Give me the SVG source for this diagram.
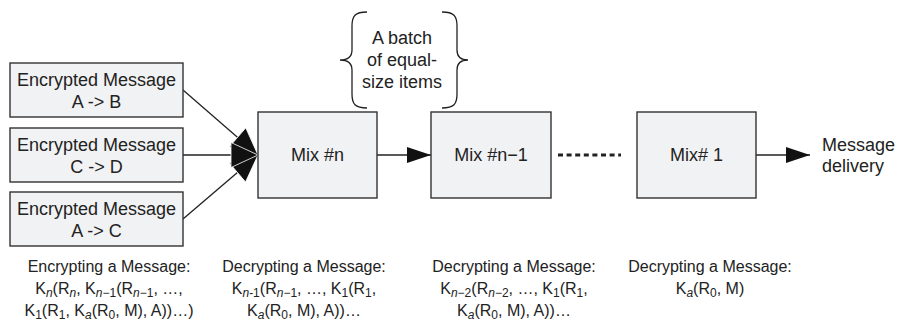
<svg xmlns="http://www.w3.org/2000/svg" width="898" height="321" viewBox="0 0 898 321">
<style>
text{font-family:"Liberation Sans",Arial,sans-serif;fill:#222}
.box{fill:#f1f2f4;stroke:#333;stroke-width:1.4}
.lbl{font-size:18px;text-anchor:middle}
.cap{font-size:16px;text-anchor:middle}
.con{stroke:#222;stroke-width:1.3;fill:none}
.sub{font-size:12px}
.it{font-style:italic}
</style>
<defs>
<marker id="ah" markerUnits="userSpaceOnUse" markerWidth="26" markerHeight="18" refX="24" refY="8" orient="auto" viewBox="-1 -1 26 18">
<path d="M0,0 L24,8 L0,16 z" fill="#111"/>
</marker>
<marker id="ahw" markerUnits="userSpaceOnUse" markerWidth="30" markerHeight="28" refX="27" refY="12.5" orient="auto" viewBox="-1 -1 30 28">
<path d="M0,0 L27,12.5 L0,25 z" fill="#111" stroke="#fff" stroke-width="0.8"/>
</marker>
</defs>
<g id="connectors">
<line class="con" x1="183" y1="90" x2="258" y2="155" marker-end="url(#ahw)"/>
<line class="con" x1="183" y1="219" x2="258" y2="155" marker-end="url(#ahw)"/>
<line class="con" x1="183" y1="155" x2="258" y2="155" marker-end="url(#ahw)"/>
<line class="con" x1="377" y1="155" x2="431" y2="155" marker-end="url(#ah)"/>
<line x1="558" y1="155" x2="621" y2="155" stroke="#222" stroke-width="3" stroke-dasharray="5 3.6"/>
<line class="con" x1="756" y1="155" x2="810" y2="155" marker-end="url(#ah)"/>
</g>
<g id="msg1">
<rect class="box" x="10" y="63" width="173" height="54"/>
<text class="lbl" x="96.5" y="86">Encrypted Message</text>
<text class="lbl" x="96.5" y="108">A -&gt; B</text>
</g>
<g id="msg2">
<rect class="box" x="10" y="128" width="173" height="54"/>
<text class="lbl" x="96.5" y="151">Encrypted Message</text>
<text class="lbl" x="96.5" y="173">C -&gt; D</text>
</g>
<g id="msg3">
<rect class="box" x="10" y="192" width="173" height="54"/>
<text class="lbl" x="96.5" y="215">Encrypted Message</text>
<text class="lbl" x="96.5" y="237">A -&gt; C</text>
</g>
<g id="mixn">
<rect class="box" x="258" y="112" width="119" height="86"/>
<text class="lbl" x="317.5" y="161">Mix #n</text>
</g>
<g id="mixn1">
<rect class="box" x="431" y="112" width="120" height="86"/>
<text class="lbl" x="491" y="161">Mix #n−1</text>
</g>
<g id="mix1">
<rect class="box" x="637" y="112" width="119" height="86"/>
<text class="lbl" x="696.5" y="161">Mix# 1</text>
</g>
<g id="delivery">
<text font-size="18" x="822" y="151">Message</text>
<text font-size="18" x="822" y="172">delivery</text>
</g>
<g id="batch">
<path class="con" d="M367,12 C355,12 352,16 352,26 L352,50 C352,57 348,60 340,60 C348,60 352,63 352,70 L352,94 C352,104 355,108 367,108"/>
<path class="con" d="M442,12 C454,12 457,16 457,26 L457,50 C457,57 461,60 468,60 C461,60 457,63 457,70 L457,94 C457,104 454,108 442,108"/>
<text class="lbl" x="402" y="44">A batch</text>
<text class="lbl" x="402" y="66">of equal-</text>
<text class="lbl" x="402" y="88">size items</text>
</g>
<g id="enc">
<text class="cap" x="109" y="272">Encrypting a Message:</text>
<text class="cap" x="109" y="294">K<tspan class="sub it" dy="3">n</tspan><tspan dy="-3">(R</tspan><tspan class="sub it" dy="3">n</tspan><tspan dy="-3">, K</tspan><tspan class="sub" dy="3"><tspan class="it">n</tspan>−1</tspan><tspan dy="-3">(R</tspan><tspan class="sub" dy="3"><tspan class="it">n</tspan>−1</tspan><tspan dy="-3">, …,</tspan></text>
<text class="cap" x="109" y="316">K<tspan class="sub" dy="3">1</tspan><tspan dy="-3">(R</tspan><tspan class="sub" dy="3">1</tspan><tspan dy="-3">, K</tspan><tspan class="sub it" dy="3">a</tspan><tspan dy="-3">(R</tspan><tspan class="sub" dy="3">0</tspan><tspan dy="-3">, M), A))…)</tspan></text>
</g>
<g id="dec1">
<text class="cap" x="304" y="272">Decrypting a Message:</text>
<text class="cap" x="304" y="294">K<tspan class="sub" dy="3"><tspan class="it">n</tspan>-1</tspan><tspan dy="-3">(R</tspan><tspan class="sub" dy="3"><tspan class="it">n</tspan>−1</tspan><tspan dy="-3">, …, K</tspan><tspan class="sub" dy="3">1</tspan><tspan dy="-3">(R</tspan><tspan class="sub" dy="3">1</tspan><tspan dy="-3">,</tspan></text>
<text class="cap" x="304" y="316">K<tspan class="sub it" dy="3">a</tspan><tspan dy="-3">(R</tspan><tspan class="sub" dy="3">0</tspan><tspan dy="-3">, M), A))…</tspan></text>
</g>
<g id="dec2">
<text class="cap" x="514" y="272">Decrypting a Message:</text>
<text class="cap" x="514" y="294">K<tspan class="sub" dy="3"><tspan class="it">n</tspan>−2</tspan><tspan dy="-3">(R</tspan><tspan class="sub" dy="3"><tspan class="it">n</tspan>−2</tspan><tspan dy="-3">, …, K</tspan><tspan class="sub" dy="3">1</tspan><tspan dy="-3">(R</tspan><tspan class="sub" dy="3">1</tspan><tspan dy="-3">,</tspan></text>
<text class="cap" x="514" y="316">K<tspan class="sub it" dy="3">a</tspan><tspan dy="-3">(R</tspan><tspan class="sub" dy="3">0</tspan><tspan dy="-3">, M), A))…</tspan></text>
</g>
<g id="dec3">
<text class="cap" x="710" y="272">Decrypting a Message:</text>
<text class="cap" x="710" y="294">K<tspan class="sub it" dy="3">a</tspan><tspan dy="-3">(R</tspan><tspan class="sub" dy="3">0</tspan><tspan dy="-3">, M)</tspan></text>
</g>
</svg>
